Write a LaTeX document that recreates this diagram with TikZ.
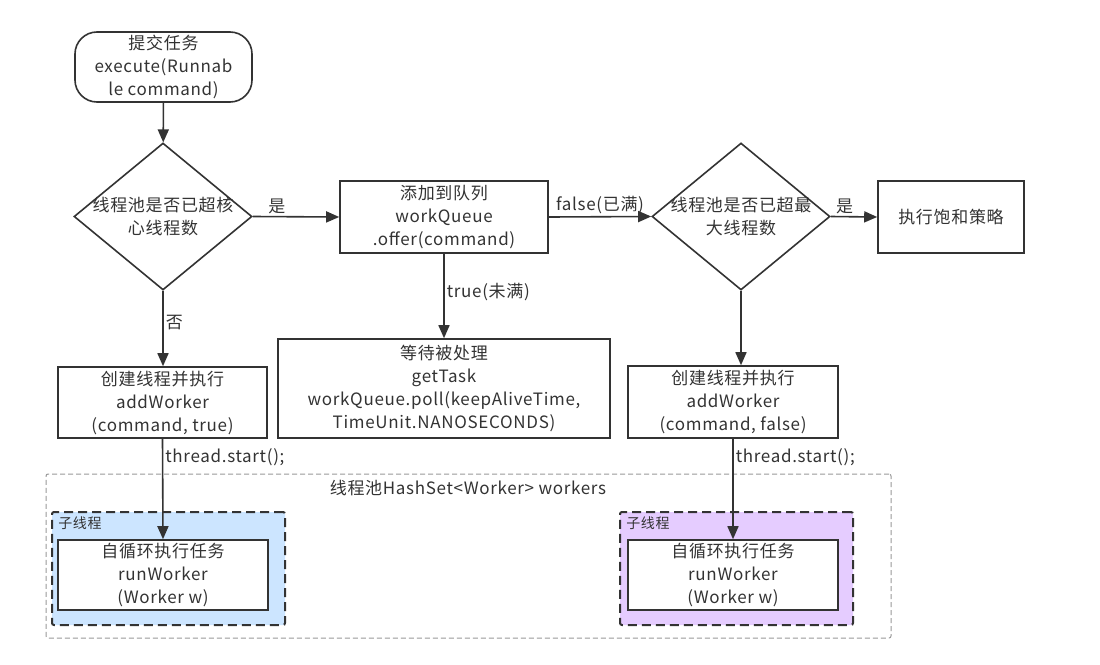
\documentclass[tikz,border=0pt]{standalone}
\usepackage{fontspec}
\setmainfont{Noto Sans CJK SC}[LetterSpace=4]
\usetikzlibrary{shapes.geometric,arrows.meta}
\definecolor{ink}{HTML}{333333}
\definecolor{subblue}{HTML}{CCE5FF}
\definecolor{subpurple}{HTML}{E5CCFF}
\begin{document}
\begin{tikzpicture}[x=1pt,y=-1pt,
  every node/.style={text=ink,font=\fontsize{17}{23}\selectfont},
  proc/.style={draw=ink,line width=1.6pt,fill=white,inner sep=0pt,align=center},
  term/.style={proc,rounded corners=22pt},
  dia/.style={draw=ink,line width=1.6pt,diamond,inner sep=0pt,minimum width=178pt,minimum height=147pt},
  arr/.style={draw=ink,line width=1.6pt,-{Triangle[length=13pt,width=11pt]}},
  lbl/.style={inner sep=2pt},
  sub/.style={draw=ink,line width=2pt,dash pattern=on 9pt off 5pt,rounded corners=2pt},
  pool/.style={draw=black!40,line width=1pt,dash pattern=on 5pt off 3pt,rounded corners=2pt}]
\useasboundingbox[fill=white] (0,0) rectangle (1100,664);

% container and sub-thread regions
\node[pool,minimum width=845pt,minimum height=164pt] (pool) at (468.5,556) {};
\node[lbl] (poollbl) at (468,488) {线程池HashSet<Worker> workers};
\node[sub,fill=subblue,minimum width=233pt,minimum height=113pt] (subA) at (168.5,568.5) {};
\node[sub,fill=subpurple,minimum width=233pt,minimum height=113pt] (subB) at (736.5,568.5) {};
\node[lbl,font=\fontsize{14}{16}\selectfont] (subAlbl) at (80,523) {子线程};
\node[lbl,font=\fontsize{14}{16}\selectfont] (subBlbl) at (648,523) {子线程};

% main nodes
\node[term,minimum width=177pt,minimum height=70pt] (start) at (163.5,67) {提交任务\\execute(Runnab\\le command)};
\node[dia] (d1) at (163,216.5) {};
\node[lbl,align=center] (d1t) at (d1) {线程池是否已超核\\心线程数};
\node[proc,minimum width=208pt,minimum height=72pt] (queue) at (444,217) {添加到队列\\workQueue\\.offer(command)};
\node[dia] (d2) at (741,216.5) {};
\node[lbl,align=center] (d2t) at (d2) {线程池是否已超最\\大线程数};
\node[proc,minimum width=146pt,minimum height=72pt] (reject) at (951,217) {执行饱和策略};
\node[proc,minimum width=209pt,minimum height=71pt] (addA) at (162.5,402.5) {创建线程并执行\\addWorker\\(command, true)};
\node[proc,minimum width=332pt,minimum height=99pt] (wait) at (444,388.5) {等待被处理\\getTask\\workQueue.poll(keepAliveTime,\\TimeUnit.NANOSECONDS)};
\node[proc,minimum width=210pt,minimum height=72pt] (addB) at (733,402) {创建线程并执行\\addWorker\\(command, false)};
\node[proc,minimum width=210pt,minimum height=70pt] (runA) at (163,575) {自循环执行任务\\runWorker\\(Worker w)};
\node[proc,minimum width=210pt,minimum height=70pt] (runB) at (733,575) {自循环执行任务\\runWorker\\(Worker w)};

% connectors
\draw[arr] (start) -- (d1);
\draw[arr] (d1.east) -- node[lbl,above,pos=0.28] {是} (queue.west);
\draw[arr] (queue.east) -- node[lbl,above] {false(已满)} (d2.west);
\draw[arr] (d2.east) -- node[lbl,above,pos=0.3] {是} (reject.west);
\draw[arr] (d1.south) -- node[lbl,right,pos=0.42] {否} (addA.north -| d1.south);
\draw[arr] (queue.south) -- node[lbl,right,pos=0.45] {true(未满)} (wait.north);
\draw[arr] (d2.south) -- (addB.north -| d2.south);
\draw[arr] (addA.south) -- node[lbl,right,pos=0.18] {thread.start();} (runA.north);
\draw[arr] (addB.south) -- node[lbl,right,pos=0.18] {thread.start();} (runB.north);
\end{tikzpicture}
\end{document}
